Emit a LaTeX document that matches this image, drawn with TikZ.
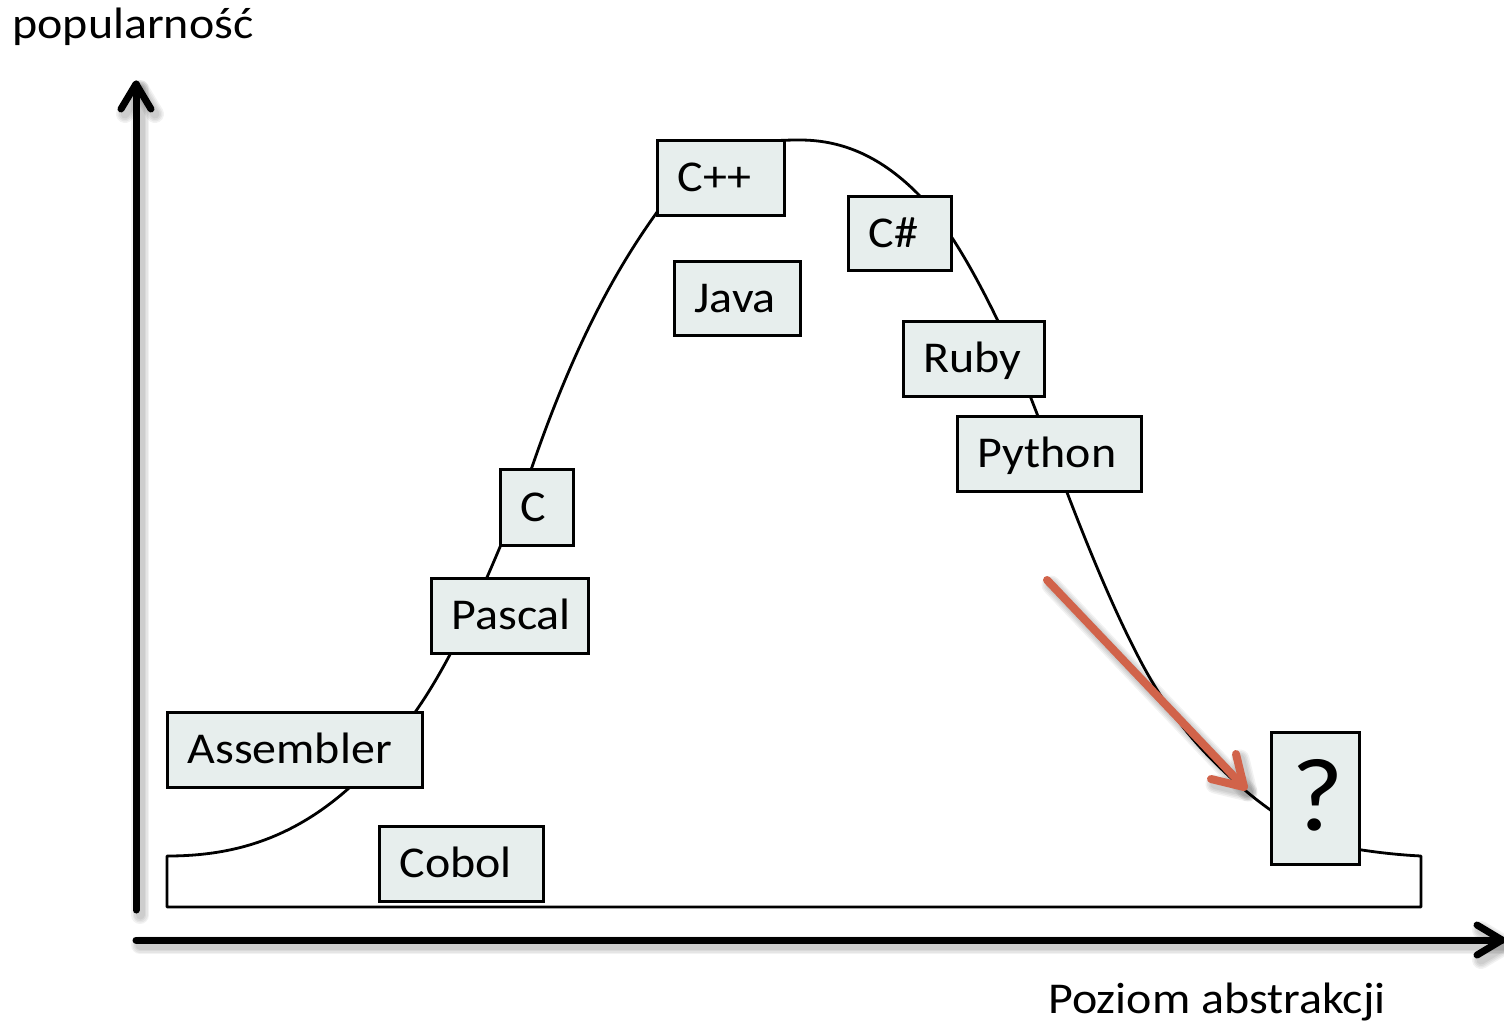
\documentclass[tikz,border=0pt]{standalone}
\usepackage{fontspec}
\setmainfont{Carlito}[FakeStretch=1.09]
\usetikzlibrary{calc}
\definecolor{boxfill}{RGB}{231,238,237}
\definecolor{accent}{RGB}{209,99,74}

\begin{document}
\begin{tikzpicture}[x=0.5pt, y=-0.5pt,
  lang/.style={draw=black, line width=1.5pt, fill=boxfill, anchor=north west,
    inner xsep=10pt, inner ysep=1pt, align=left,
    text height=13.8pt, text depth=0pt, font=\fontsize{22}{26}\selectfont},
  axisline/.style={black, line width=3.5pt, line cap=round, line join=round},
  bellcurve/.style={black, line width=1.4pt, line join=round},
  hintarrow/.style={accent, line width=4pt, line cap=round, line join=round},
  axtitle/.style={inner sep=0pt, anchor=base west, font=\fontsize{22}{26}\selectfont},
  softshadow/.style={black, opacity=0.05, line cap=round, line join=round}
]
\useasboundingbox (0,0) rectangle (1504,1030);
\fill[white] (0,0) rectangle (1504,1030);

% axis end points
\coordinate (ybot) at (136,910);
\coordinate (ytop) at (136,84);
\coordinate (xleft) at (136,940);
\coordinate (xright) at (1502,940);
% hint arrow end points
\coordinate (hs) at (1047,580);
\coordinate (he) at (1244,787);

% soft drop shadows under the axes and the hint arrow
\begin{scope}[transform canvas={shift={(2pt,-2.5pt)}}]
  \foreach \w in {4.5pt,6pt,7.5pt,9pt}{
    \draw[softshadow, line width=\w] (ybot) -- (ytop);
    \draw[softshadow, line width=\w] ($(ytop)+(-15,25)$) -- (ytop) -- ($(ytop)+(15,25)$);
    \draw[softshadow, line width=\w] (xleft) -- (xright);
    \draw[softshadow, line width=\w] ($(xright)+(-25,-15)$) -- (xright) -- ($(xright)+(-25,15)$);
  }
  \foreach \w in {5pt,6.5pt,8pt,9.5pt}{
    \draw[softshadow, line width=\w] (hs) -- (he);
    \draw[softshadow, line width=\w] ($(he)+(-8,-33)$) -- (he) -- ($(he)+(-33,-8)$);
  }
\end{scope}

% popularity curve over its flat base
\draw[bellcurve] (167,856)
  .. controls (250.7,856) and (334.3,829.4) .. (418,708)
  .. controls (456,652.9) and (494,565.8) .. (532,467)
  .. controls (573,348.1) and (614,272.4) .. (655,215)
  .. controls (703.3,145) and (751.7,140) .. (800,140)
  .. controls (839,140) and (878,154) .. (917,193)
  .. controls (943.7,219.7) and (970.3,264.3) .. (997,319)
  .. controls (1020.7,367.6) and (1044.3,433.4) .. (1068,495)
  .. controls (1092,557.4) and (1116,614.4) .. (1140,660)
  .. controls (1170,717) and (1200,749.4) .. (1230,777)
  .. controls (1274,817.5) and (1318,843.4) .. (1362,850)
  .. controls (1381.7,853) and (1401.3,855) .. (1421,856)
  -- (1421,907) -- (167,907) -- cycle;

% axes
\draw[axisline] (ybot) -- (ytop);
\draw[axisline] ($(ytop)+(-15,25)$) -- (ytop) -- ($(ytop)+(15,25)$);
\draw[axisline] (xleft) -- (xright);
\draw[axisline] ($(xright)+(-25,-15)$) -- (xright) -- ($(xright)+(-25,15)$);

% axis titles
\node[axtitle] (ytitle) at (12,38) {popularność};
\node[axtitle] (xtitle) at (1048,1013) {Poziom abstrakcji};

% languages
\node[lang, text width=43.5pt, minimum height=37.5pt] (cpp)    at (656,139) {C++};
\node[lang, text width=31.5pt, minimum height=37pt]   (csharp) at (847,195) {C\#};
\node[lang, text width=43pt,   minimum height=37pt]   (java)   at (673,260) {Java};
\node[lang, text width=50.5pt, minimum height=37.5pt] (ruby)   at (902,320) {Ruby};
\node[lang, text width=72pt,   minimum height=37.5pt] (python) at (956,415) {Python};
\node[lang, text width=16.5pt, minimum height=38pt]   (c)      at (499,468) {C};
\node[lang, text width=58.5pt, minimum height=37.5pt] (pascal) at (430,577) {Pascal};
\node[lang, text width=107.5pt,minimum height=37.5pt] (asm)    at (166,711) {Assembler};
\node[lang, text width=62pt,   minimum height=37.5pt] (cobol)  at (378,825) {Cobol};
\node[lang, text width=24pt, minimum height=66pt, align=center,
      text height=32pt, font=\fontsize{52}{60}\selectfont] (next) at (1270,731) {?};

% hint arrow pointing at the next step
\draw[hintarrow] (hs) -- (he);
\draw[hintarrow] ($(he)+(-8,-33)$) -- (he) -- ($(he)+(-33,-8)$);
\end{tikzpicture}
\end{document}
